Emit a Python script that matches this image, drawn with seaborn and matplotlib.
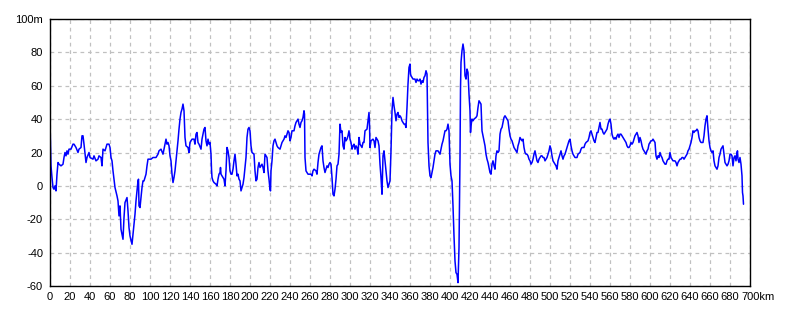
import matplotlib
matplotlib.use("Agg")
import matplotlib.pyplot as plt
import matplotlib.transforms as mtransforms
import seaborn as sns
import pandas as pd

# ---- data ----
distance_km = [
    0, 0.5, 1, 2, 3, 4, 5, 6, 7, 8, 9, 11, 13, 14, 15, 16, 17, 18, 19, 21,
    23, 24, 26, 28, 29, 31, 32, 33, 34, 36, 37, 39, 40, 43, 44, 46, 48, 49, 51, 52,
    53, 55, 57, 59, 60, 61, 62, 63, 64, 65, 67, 68, 69, 70, 71, 72, 73, 74, 75, 77,
    78, 79, 80, 82, 83, 84, 85, 86, 87, 88, 88.5, 89, 90, 92, 93, 94, 95, 96, 97, 98,
    99, 101, 103, 106, 108, 109, 111, 113, 114, 116, 117, 118, 119, 120, 121, 122, 123, 124, 125, 126,
    127, 128, 129, 130, 131, 132, 133, 134, 135, 136, 138, 139, 140, 142, 144, 145, 146, 147, 148, 149,
    151, 152, 154, 155, 156, 157, 158, 159, 160, 161, 161.5, 162, 163, 164, 166, 167, 168, 169, 170, 170.5,
    171, 173, 174, 175, 176, 177, 178, 179, 180, 181, 182, 183, 184, 185, 186, 187, 188, 189, 190, 191,
    192, 193, 194, 195, 196, 197, 198, 199, 200, 201, 202, 204, 205, 206, 207, 208, 209, 210, 212, 213,
    214, 215, 216, 217, 218, 219, 220, 220.5, 221, 222, 223, 224, 225, 226, 227, 228, 230, 231, 232, 234,
    235, 236, 238, 239, 240, 241, 242, 244, 245, 246, 248, 249, 250, 251, 252, 253, 254, 254.5, 255, 256,
    258, 259, 261, 262, 263, 264, 266, 267, 268, 269, 270, 271, 272, 273, 274, 275, 276, 277, 278, 279,
    280, 281, 282, 283, 284, 285, 286, 287, 288, 289, 289.5, 290, 291, 292, 293, 294, 295, 296, 297, 298,
    299, 300, 301, 302, 303, 304, 305, 306, 307, 308, 309, 310, 311, 312, 313, 314, 315, 317, 318, 319,
    319.5, 320, 321, 323, 324, 325, 326, 327, 328, 329, 330, 331, 332, 333, 334, 335, 336, 337, 338, 339,
    340, 341, 341.5, 342, 343, 344, 345, 346, 347, 348, 349, 350, 351, 352, 353, 354, 355, 356, 357, 358,
    359, 360, 360.5, 361, 363, 364, 365, 366, 367, 368, 369, 370, 371, 372, 373, 374, 375, 376, 377, 377.5,
    378, 379, 380, 381, 382, 383, 384, 385, 386, 387, 388, 389, 390, 391, 392, 393, 394, 395, 396, 397,
    398, 399, 400, 401, 402, 403, 404, 405, 406, 407, 408, 409, 410, 410.5, 411, 412, 413, 414, 415, 416,
    417, 418, 419, 420, 420.5, 421, 422, 423, 424, 426, 427, 428, 429, 430, 431, 432, 433, 434, 435, 436,
    437, 438, 439, 440, 441, 442, 443, 444, 445, 446, 447, 448, 449, 450, 451, 452, 453, 454, 455, 456,
    457, 458, 459, 460, 461, 462, 463, 464, 465, 466, 467, 468, 469, 470, 471, 472, 473, 474, 475, 476,
    477, 478, 479, 480, 481, 482, 483, 484, 485, 486, 487, 488, 489, 490, 491, 492, 493, 494, 495, 496,
    497, 498, 499, 500, 501, 502, 503, 504, 505, 506, 507, 508, 509, 510, 511, 512, 513, 514, 515, 516,
    517, 518, 519, 520, 521, 522, 523, 524, 525, 527, 528, 530, 531, 532, 534, 535, 536, 538, 539, 540,
    541, 542, 543, 544, 545, 546, 547, 548, 549, 550, 551, 552, 553, 554, 555, 556, 557, 558, 559, 560,
    561, 562, 563, 564, 565, 566, 567, 568, 569, 570, 571, 572, 573, 574, 575, 576, 577, 578, 579, 580,
    581, 582, 583, 584, 585, 586, 587, 588, 589, 590, 591, 592, 593, 594, 595, 596, 597, 598, 599, 600,
    601, 602, 603, 604, 605, 606, 607, 608, 609, 610, 611, 612, 613, 614, 615, 616, 617, 618, 619, 620,
    621, 622, 623, 624, 625, 626, 627, 628, 629, 630, 631, 632, 633, 634, 635, 636, 637, 638, 639, 640,
    641, 642, 643, 644, 645, 646, 647, 648, 649, 650, 651, 652, 653, 654, 655, 656, 657, 658, 659, 660,
    661, 662, 663, 664, 665, 666, 667, 668, 669, 670, 671, 672, 673, 674, 675, 676, 677, 678, 679, 680,
    681, 682, 683, 684, 685, 686, 687, 687.5, 688, 689, 690, 691, 692, 692.5, 693, 693.5,
]

elevation_m = [
    38, 25, 12, 5, -1, -2, 0, -3, 7, 14, 13, 12, 13, 17, 20, 18, 21, 19, 22, 22,
    25, 25, 23, 20, 22, 23, 30, 30, 25, 14, 17, 20, 17, 16, 18, 15, 16, 18, 17, 12,
    22, 21, 25, 25, 23, 17, 15, 9, 4, -1, -6, -9, -18, -12, -26, -29, -32, -19, -10, -7,
    -15, -25, -30, -35, -29, -23, -17, -9, -3, 3, 4, -12, -13, -1, 3, 3, 5, 7, 12, 16,
    16, 16, 17, 17, 19, 21, 22, 19, 22, 28, 25, 26, 24, 18, 15, 7, 2, 5, 9, 15,
    21, 27, 34, 40, 44, 46, 49, 45, 29, 24, 23, 20, 26, 28, 28, 25, 31, 32, 26, 25,
    22, 28, 34, 35, 27, 24, 28, 25, 26, 19, 10, 5, 3, 2, 1, 0, 4, 7, 8, 11,
    7, 5, 4, 0, 9, 23, 21, 17, 9, 7, 7, 10, 15, 19, 13, 6, 7, 4, 3, -3,
    -1, 1, 5, 11, 17, 29, 34, 35, 33, 24, 20, 19, 9, 3, 4, 11, 14, 11, 13, 11,
    8, 19, 18, 17, 9, 4, -2, -3, 9, 15, 24, 27, 28, 26, 24, 23, 22, 24, 26, 28,
    30, 29, 33, 32, 27, 29, 33, 33, 36, 38, 40, 37, 35, 38, 39, 41, 45, 43, 17, 9,
    7, 7, 7, 6, 9, 10, 9, 7, 14, 19, 21, 23, 24, 15, 11, 8, 10, 12, 11, 13,
    14, 13, 5, -5, -6, -2, 4, 12, 13, 19, 29, 37, 32, 33, 24, 22, 29, 27, 28, 30,
    33, 28, 26, 22, 24, 25, 22, 24, 23, 19, 29, 25, 24, 23, 26, 26, 33, 34, 39, 44,
    37, 23, 27, 28, 27, 23, 29, 28, 27, 24, 13, 5, -5, 18, 21, 15, 9, 3, -1, 1,
    3, 21, 34, 45, 53, 48, 44, 39, 43, 44, 41, 42, 41, 39, 38, 37, 37, 35, 47, 61,
    71, 73, 67, 66, 64, 64, 64, 62, 64, 63, 63, 64, 61, 63, 62, 65, 66, 69, 67, 45,
    26, 12, 6, 5, 8, 11, 15, 19, 21, 21, 21, 20, 19, 22, 25, 27, 30, 33, 33, 34,
    37, 33, 13, 6, 3, -12, -30, -45, -52, -53, -58, -37, 17, 58, 74, 81, 85, 81, 66, 64,
    70, 68, 55, 45, 32, 36, 40, 39, 40, 41, 42, 47, 51, 50, 49, 33, 30, 27, 24, 19,
    16, 14, 11, 8, 7, 13, 15, 12, 10, 18, 21, 20, 21, 31, 34, 35, 38, 41, 42, 41,
    40, 39, 34, 30, 28, 27, 25, 23, 22, 21, 20, 24, 26, 29, 28, 27, 28, 23, 20, 19,
    19, 18, 16, 15, 13, 14, 16, 19, 21, 18, 15, 14, 16, 17, 18, 18, 17, 17, 15, 16,
    17, 19, 21, 24, 22, 18, 15, 14, 13, 12, 10, 15, 17, 19, 21, 18, 16, 18, 19, 21,
    23, 25, 27, 28, 24, 21, 19, 18, 17, 17, 19, 20, 22, 23, 23, 25, 26, 27, 29, 32,
    33, 31, 29, 27, 26, 29, 32, 32, 35, 38, 34, 34, 32, 31, 32, 33, 34, 37, 39, 40,
    37, 31, 29, 28, 29, 28, 30, 31, 29, 31, 31, 30, 29, 28, 27, 26, 24, 23, 23, 24,
    26, 25, 26, 28, 30, 31, 32, 30, 26, 29, 27, 24, 22, 21, 20, 19, 21, 22, 25, 26,
    27, 27, 28, 27, 26, 18, 16, 18, 17, 20, 18, 17, 15, 14, 13, 13, 15, 16, 16, 20,
    17, 16, 15, 15, 15, 14, 12, 14, 15, 16, 16, 17, 17, 16, 17, 18, 19, 21, 22, 24,
    26, 29, 33, 32, 33, 33, 34, 33, 29, 27, 26, 26, 26, 30, 36, 40, 42, 34, 27, 23,
    21, 20, 21, 15, 12, 11, 10, 12, 17, 19, 22, 23, 24, 19, 14, 13, 12, 13, 15, 19,
    19, 18, 12, 17, 18, 15, 20, 21, 16, 14, 17, 13, 6, -4, -6, -11,
]

x_ticks = list(range(0, 701, 20))
x_tick_labels = [str(v) for v in x_ticks[:-1]] + ["700km"]
y_ticks = list(range(-60, 101, 20))
y_tick_labels = [str(v) for v in y_ticks[:-1]] + ["100m"]

df = pd.DataFrame({"km": distance_km, "m": elevation_m})

sns.set_style("white")
plt.rcParams["font.family"] = ["Liberation Sans", "DejaVu Sans"]

fig = plt.figure(figsize=(7.9, 3.16), dpi=100)
ax = fig.add_axes([50 / 790, 30 / 316, 700 / 790, 267 / 316])

sns.lineplot(data=df, x="km", y="m", ax=ax, color="#0000ff", linewidth=1.1,
             estimator=None, sort=False)

ax.set_xlim(0, 700)
ax.set_ylim(-60, 100)
ax.set_xticks(x_ticks)
ax.set_xticklabels(x_tick_labels)
ax.set_yticks(y_ticks)
ax.set_yticklabels(y_tick_labels)
ax.set_xlabel("")
ax.set_ylabel("")

ax.grid(True, color="#c0c0c0", linestyle=(0, (3, 3)), linewidth=0.9)
ax.set_axisbelow(True)
for s in ax.spines.values():
    s.set_color("black")
    s.set_linewidth(1.0)

ax.tick_params(axis="both", length=0, labelsize=8, colors="black")
ax.tick_params(axis="x", pad=4)
ax.tick_params(axis="y", pad=5)

# "700km": number centred on its tick, unit trailing to the right
last = ax.get_xticklabels()[-1]
last.set_horizontalalignment("left")
last.set_transform(last.get_transform() + mtransforms.ScaledTranslation(-9 / 100, 0, fig.dpi_scale_trans))

fig.savefig("out.png", dpi=100, facecolor="white")
